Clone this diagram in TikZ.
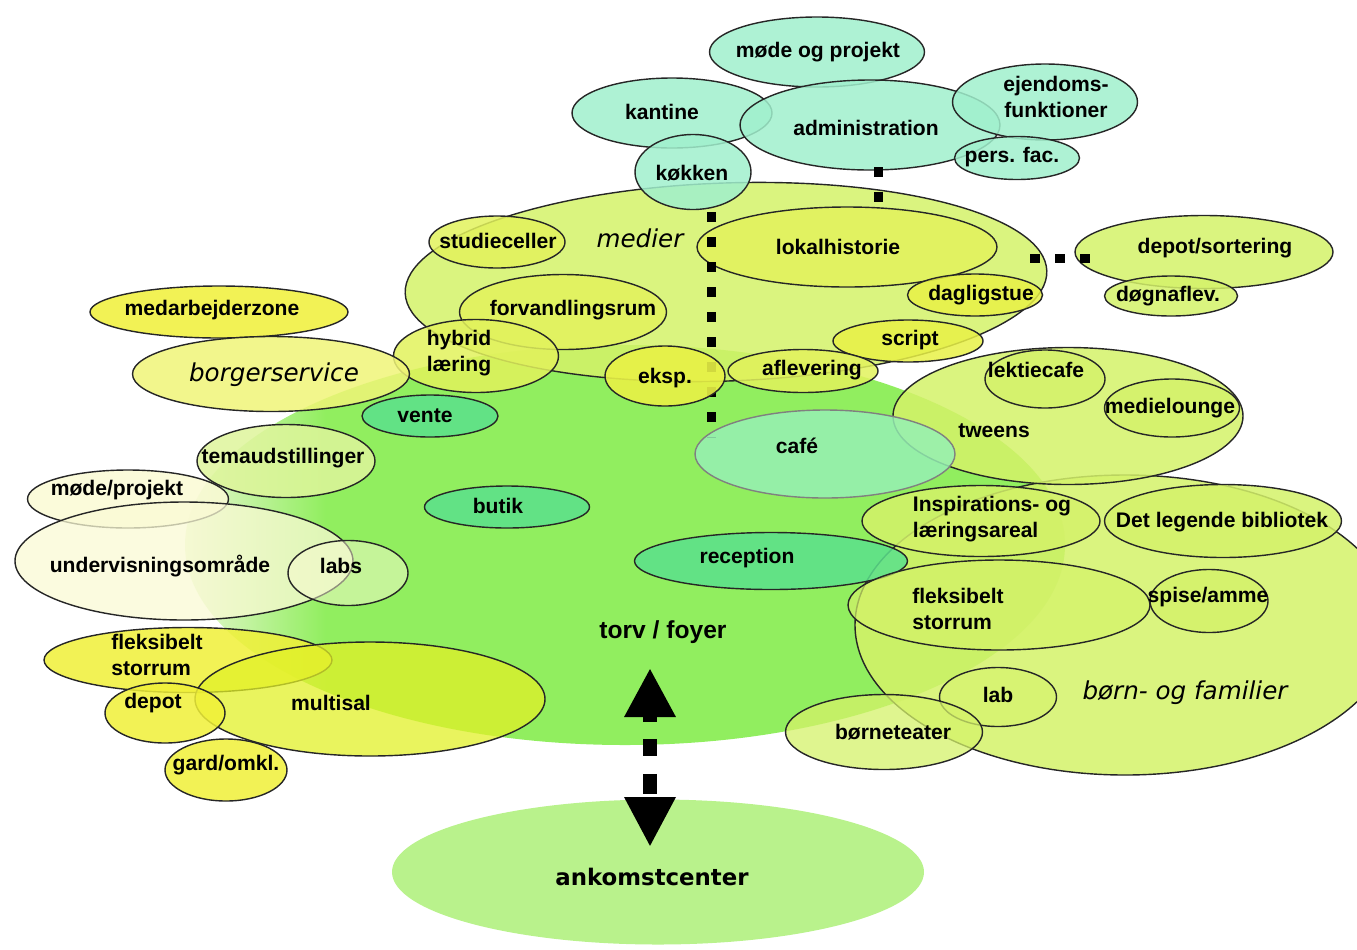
\documentclass[tikz,border=0pt]{standalone}
\usepackage{fontspec}
\setmainfont{Liberation Sans}
\newfontfamily\verd{DejaVu Sans}
\usetikzlibrary{shapes.geometric,arrows.meta}
\definecolor{mint}{RGB}{160,240,205}
\definecolor{lime}{RGB}{212,242,105}
\definecolor{limey}{RGB}{226,242,92}
\definecolor{gul}{RGB}{240,240,55}
\definecolor{gulgron}{RGB}{225,240,40}
\definecolor{blek}{RGB}{240,245,120}
\definecolor{teal}{RGB}{90,225,140}
\definecolor{cafe}{RGB}{150,240,180}
\definecolor{creme}{RGB}{250,250,212}
\definecolor{tema}{RGB}{222,245,155}
\definecolor{torv}{RGB}{145,238,95}
\definecolor{torvpale}{RGB}{232,247,210}
\definecolor{ankomst}{RGB}{185,242,140}
\pgfdeclarehorizontalshading{torvshade}{100bp}{color(0bp)=(torvpale); color(25bp)=(torvpale); color(33bp)=(torv); color(100bp)=(torv)}
\begin{document}
\begin{tikzpicture}[x=0.2mm,y=-0.2mm,
  zone/.style={ellipse, draw=black!85, line width=0.8pt, fill opacity=0.85, inner sep=0pt},
  sz/.style 2 args={minimum width=#1*0.2mm, minimum height=#2*0.2mm},
  txt/.style={font=\fontsize{12}{14.5}\selectfont\bfseries, align=left, inner sep=0pt},
  ital/.style={font=\verd\fontsize{14}{15}\selectfont\itshape, inner sep=0pt},
  dots/.style={line width=1.8mm, dash pattern=on 2mm off 3mm},
  bigarrow/.style={line width=2.8mm, dash pattern=on 1.6mm off 3.4mm on 3.4mm off 3.6mm on 4mm,
    {Triangle[width=9.6mm,length=9.8mm]}-{Triangle[width=9.6mm,length=10mm]}}]
\useasboundingbox (0,0) rectangle (1357,949);

\node [ellipse, shading=torvshade, sz={880}{400}] (torv) at (625,545) {};
\node [ellipse, fill=ankomst, sz={532}{145}] (ankomst) at (658,872) {};
\coordinate (up) at (650,668);
\coordinate (down) at (650,847);
\draw [bigarrow] (up) -- (down);

\node [zone, fill=lime, sz={642}{198}, rotate=2] (medier) at (726,282) {};
\node [zone, fill=lime, sz={540}{300}] (born) at (1125,625) {};
\node [zone, fill=lime, sz={350}{137}] (tweens) at (1068,416) {};

\node [zone, fill=mint, sz={215}{70}] (mode) at (817,52) {};
\node [zone, fill=mint, sz={200}{70}] (kantine) at (672,113) {};
\node [zone, fill=mint, sz={260}{90}] (admin) at (870,125) {};
\node [zone, fill=mint, sz={185}{76}] (ejendom) at (1045,102) {};
\node [zone, fill=mint, sz={125}{43}] (pers) at (1017,158) {};
\node [zone, fill=mint, sz={116}{75}] (kokken) at (693,172) {};

\node [zone, fill=limey, sz={136}{52}] (studie) at (497,242) {};
\node [zone, fill=limey, sz={300}{80}] (lokal) at (847,247) {};
\node [zone, fill=gul!70!lime, sz={135}{42}] (daglig) at (975,295) {};
\node [zone, fill=limey, sz={207}{75}] (forv) at (563,312) {};
\node [zone, fill=limey, sz={165}{73}] (hybrid) at (476,356) {};
\node [zone, fill=gul!70!lime, sz={150}{42}] (script) at (908,341) {};
\node [zone, fill=lime, sz={258}{73}] (sortering) at (1204,252) {};
\node [zone, fill=lime, sz={133}{40}] (dogn) at (1171,296) {};

\coordinate (v1) at (711,212);
\coordinate (v2) at (711,438);
\coordinate (a1) at (878,167);
\coordinate (a2) at (878,202);
\coordinate (h1) at (1030,258);
\coordinate (h2) at (1092,258);
\draw [dots] (v1) -- (v2);
\draw [dots] (a1) -- (a2);
\draw [dots] (h1) -- (h2);

\node [zone, fill=gul!70!lime, sz={120}{60}, fill opacity=0.9] (eksp) at (665,376) {};
\node [zone, fill=limey, sz={150}{43}] (afl) at (803,371) {};

\node [zone, fill=gul, sz={258}{52}] (medarb) at (219,312) {};
\node [zone, fill=blek, sz={277}{75}] (borger) at (271,374) {};
\node [zone, fill=teal, sz={136}{42}] (vente) at (430,416) {};
\node [zone, fill=tema, sz={178}{73}] (udstil) at (286,461) {};
\node [zone, fill=creme, sz={201}{58}] (modeprojekt) at (128,499) {};
\node [zone, fill=creme, sz={338}{118}, fill opacity=0.75] (underv) at (184,561) {};
\node [zone, fill=creme, sz={120}{65}, fill opacity=0.5] (labs) at (348,573) {};
\node [zone, fill=teal, sz={165}{42}] (butik) at (507,507) {};
\node [zone, fill=gul, sz={288}{65}] (fleksl) at (188,660) {};
\node [zone, fill=gulgron, sz={350}{114}, fill opacity=0.75] (multisal) at (370,699) {};
\node [zone, fill=gul, sz={120}{60}] (depot) at (165,713) {};
\node [zone, fill=gul, sz={122}{62}] (gard) at (226,770) {};

\node [zone, fill=cafe, sz={260}{88}, draw=black!50] (cafe) at (825,454) {};
\node [zone, fill=teal, sz={273}{57}] (reception) at (771,561) {};

\node [zone, fill=lime, sz={120}{58}] (lektie) at (1045,379) {};
\node [zone, fill=lime, sz={135}{58}] (lounge) at (1172,408) {};
\node [zone, fill=lime, sz={238}{71}] (insp) at (981,521) {};
\node [zone, fill=lime, sz={237}{73}] (legende) at (1223,521) {};
\node [zone, fill=lime, sz={302}{90}, fill opacity=0.7] (fleksr) at (999,605) {};
\node [zone, fill=lime, sz={118}{63}] (spise) at (1209,601) {};
\node [zone, fill=lime, sz={117}{59}, fill opacity=0.6] (lab) at (998,697) {};
\node [zone, fill=lime, sz={197}{75}, fill opacity=0.75] (teater) at (884,732) {};

\node [txt] (tmode) at (818,52) {møde og projekt};
\node [txt] (tkantine) at (662,112) {kantine};
\node [txt] (tadmin) at (866,128) {administration};
\node [txt, align=center] (tejendom) at (1056,97) {ejendoms-\\funktioner};
\node [txt] (tpers) at (1012,157) {pers. fac.};
\node [txt] (tkokken) at (692,173) {køkken};
\node [txt] (tstudie) at (498,241) {studieceller};
\node [ital] (tmedier) at (640,238) {medier};
\node [txt] (tlokal) at (838,247) {lokalhistorie};
\node [txt] (tdaglig) at (981,295) {dagligstue};
\node [txt] (tforv) at (573,310) {forvandlingsrum};
\node [txt] (thybrid) at (459,353) {hybrid\\læring};
\node [txt] (tscript) at (910,340) {script};
\node [txt] (teksp) at (665,378) {eksp.};
\node [txt] (tafl) at (812,370) {aflevering};
\node [txt] (tsortering) at (1215,248) {depot/sortering};
\node [txt] (tdogn) at (1168,296) {døgnaflev.};

\node [txt] (tmedarb) at (212,310) {medarbejderzone};
\node [ital] (tborger) at (274,375) {borgerservice};
\node [txt] (tvente) at (425,416) {vente};
\node [txt] (tudstil) at (283,458) {temaudstillinger};
\node [txt] (tmodeprojekt) at (117,490) {møde/projekt};
\node [txt] (tunderv) at (160,566) {undervisningsområde};
\node [txt] (tlabs) at (341,566) {labs};
\node [txt] (tbutik) at (498,506) {butik};
\node [txt] (tfleksl) at (157,655) {fleksibelt\\storrum};
\node [txt] (tdepot) at (153,703) {depot};
\node [txt] (tmultisal) at (331,703) {multisal};
\node [txt] (tgard) at (226,765) {gard/omkl.};

\node [txt] (tcafe) at (797,446) {café};
\node [txt] (treception) at (747,558) {reception};
\node [txt, font=\fontsize{14}{15}\selectfont\bfseries] (ttorv) at (663,632) {torv / foyer};
\node [txt, font=\verd\fontsize{13}{15}\selectfont\bfseries] (tankomst) at (652,877) {ankomstcenter};

\node [txt] (ttweens) at (994,431) {tweens};
\node [txt] (tlektie) at (1036,370) {lektiecafe};
\node [txt] (tlounge) at (1170,408) {medielounge};
\node [txt] (tinsp) at (992,519) {Inspirations- og\\læringsareal};
\node [txt] (tlegende) at (1222,522) {Det legende bibliotek};
\node [txt] (tfleksr) at (958,609) {fleksibelt\\storrum};
\node [txt] (tspise) at (1208,597) {spise/amme};
\node [txt] (tlab) at (998,695) {lab};
\node [ital] (tborn) at (1185,693) {børn- og familier};
\node [txt] (tteater) at (893,732) {børneteater};
\end{tikzpicture}
\end{document}
